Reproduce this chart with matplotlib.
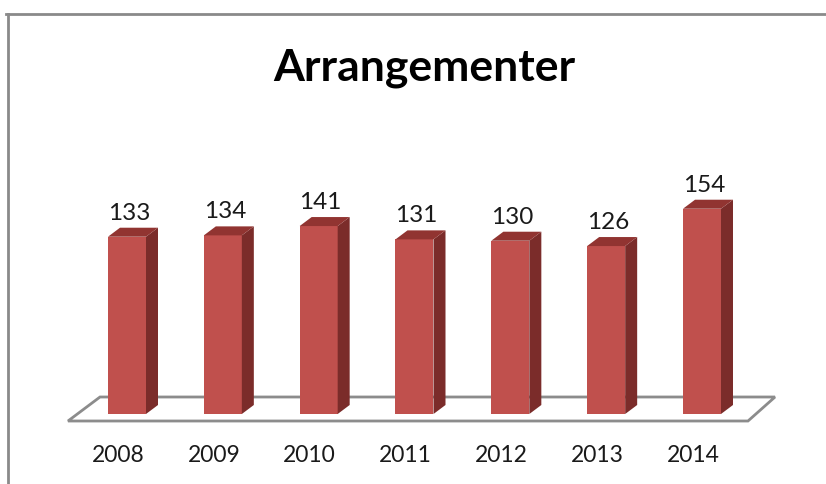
import matplotlib
matplotlib.use("Agg")
import matplotlib.pyplot as plt
from matplotlib.patches import Polygon
from matplotlib.lines import Line2D
import matplotlib.transforms as mtransforms

years = ["2008", "2009", "2010", "2011", "2012", "2013", "2014"]
values = [133, 134, 141, 131, 130, 126, 154]
title = "Arrangementer"

W, H = 826, 484
fig = plt.figure(figsize=(W / 100, H / 100), dpi=100)
plt.rcParams['font.family'] = ['Lato', 'DejaVu Sans']

# axes placement in pixels
ax_l, ax_r, ax_t, ax_b = 60, 790, 150, 430
ax = fig.add_axes([ax_l / W, (H - ax_b) / H, (ax_r - ax_l) / W, (ax_b - ax_t) / H])
# pixel->data scale
c0_px, c6_px = 127, 702
xs = (c6_px - c0_px) / 6.0
zero_px = 414
ys = 1.333
ax.set_xlim((ax_l - c0_px) / xs, (ax_r - c0_px) / xs)
ax.set_ylim(-(ax_b - zero_px) / ys, (zero_px - ax_t) / ys)
for s in ax.spines.values():
    s.set_visible(False)
ax.set_yticks([])
ax.set_xticks(range(len(years)))
ax.set_xticklabels(years, fontsize=16.5, color="#1a1a1a")
ax.tick_params(axis="x", length=0, pad=10.5)
# category labels sit slightly left of the bars (perspective of the 3D floor)
shift = mtransforms.ScaledTranslation(-9 / 100, 0, fig.dpi_scale_trans)
for lbl in ax.get_xticklabels():
    lbl.set_transform(lbl.get_transform() + shift)

def px2d(xp, yp):
    return ((xp - c0_px) / xs, (zero_px - yp) / ys)

# floor
floor = Polygon([px2d(68, 421), px2d(748, 421), px2d(775, 397), px2d(100, 397)],
                closed=True, facecolor="white", edgecolor="#8c8c8c", lw=2.0, zorder=1)
ax.add_patch(floor)

bw = 38 / xs
dx = 12 / xs
dy = 9 / ys
front = "#C0504D"
side = "#7B2C2A"
top = "#913431"
for i, v in enumerate(values):
    x0 = i - bw / 2
    x1 = i + bw / 2
    ax.bar(i, v, width=bw, bottom=0, color=front, zorder=3, linewidth=0)
    ax.add_patch(Polygon([(x1, 0), (x1 + dx, dy), (x1 + dx, v + dy), (x1, v)],
                         closed=True, facecolor=side, edgecolor="none", zorder=3))
    ax.add_patch(Polygon([(x0, v), (x1, v), (x1 + dx, v + dy), (x0 + dx, v + dy)],
                         closed=True, facecolor=top, edgecolor="none", zorder=3))
    ax.annotate(str(v), (i + 0.02, v + dy), xytext=(0, 3), textcoords="offset points",
                ha="center", va="bottom", fontsize=17.5, color="#1a1a1a")

fig.text(424 / W, 1 - 68 / H, title, ha="center", va="center",
         fontsize=32, fontweight="bold", color="black")

# chart border (top and left)
fig.add_artist(Line2D([6 / W, 1], [1 - 14 / H, 1 - 14 / H], transform=fig.transFigure,
                      color="#8a8a8a", lw=2))
fig.add_artist(Line2D([8 / W, 8 / W], [1 - 14 / H, 0], transform=fig.transFigure,
                      color="#8a8a8a", lw=2))

fig.savefig("out.png", dpi=100, facecolor="white")
